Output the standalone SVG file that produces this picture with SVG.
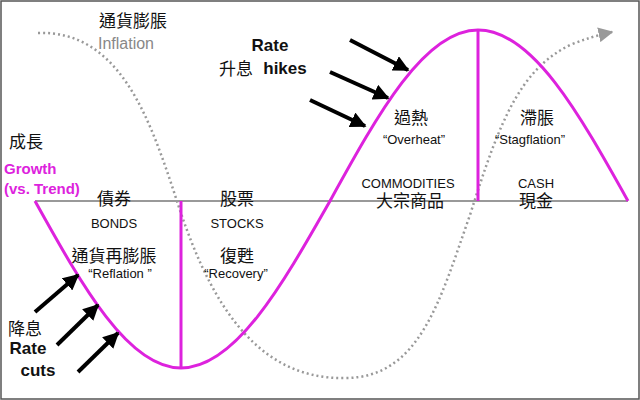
<svg xmlns="http://www.w3.org/2000/svg" width="640" height="400" viewBox="0 0 640 400">
<style>
text{font-family:"Liberation Sans","Noto Sans CJK TC",sans-serif;fill:#111;text-anchor:middle}
.cn{font-size:17px}
.en{font-size:13px}
.q{font-size:13px}
.b{font-weight:bold;font-size:17px}
.mag{fill:#dd22dd;font-weight:bold;font-size:15px;text-anchor:start}
.wave{fill:none;stroke:#dd22dd;stroke-width:3}
.arr{stroke:#000;stroke-width:4;marker-end:url(#ah)}
</style>
<defs>
<marker id="ah" viewBox="0 0 10 10" refX="9" refY="5" markerWidth="4" markerHeight="4" orient="auto"><path d="M0,0L10,5L0,10z" fill="#000"/></marker>
<marker id="gh" viewBox="0 0 10 10" refX="9" refY="5" markerWidth="6" markerHeight="6" orient="auto"><path d="M0,0L10,5L0,10z" fill="#999"/></marker>
</defs>
<rect x="1" y="1" width="638" height="398" fill="#fff" stroke="#555" stroke-width="1.5"/>
<g id="axis"><line x1="35" y1="201" x2="628" y2="201" stroke="#777" stroke-width="1.5"/></g>
<g id="inflation-curve"><path d="M38,33 C120,30 150,120 175,195 C205,290 250,380 345,378 C420,378 440,300 470,215 C500,120 520,70 570,45 C585,39 598,35 612,32" fill="none" stroke="#999" stroke-width="2.5" stroke-dasharray="2,3" marker-end="url(#gh)"/></g>
<g id="growth-curve">
<path class="wave" d="M35,201 C82.6,286.6 128.2,368 181,368 C234.9,368 281.4,286.6 330,201 C378.3,113.4 424.4,30 478,30 C532.3,30 579.1,113.4 628,201"/>
<line x1="181" y1="201" x2="181" y2="368" class="wave"/>
<line x1="478" y1="30" x2="478" y2="201" class="wave"/>
</g>
<g id="connectors">
<line class="arr" x1="35" y1="312" x2="78" y2="275"/>
<line class="arr" x1="57" y1="345" x2="98" y2="305"/>
<line class="arr" x1="78" y1="372" x2="118" y2="333"/>
<line class="arr" x1="350" y1="40" x2="408" y2="70"/>
<line class="arr" x1="330" y1="72" x2="388" y2="98"/>
<line class="arr" x1="310" y1="100" x2="365" y2="126"/>
</g>
<g id="inflation-label"><text class="cn" x="133" y="27">通貨膨脹</text><text x="126" y="49" style="font-size:16px;fill:#888">Inflation</text></g>
<g id="hikes-label"><text class="b" x="270" y="51">Rate</text><text class="cn" x="236" y="75">升息</text><text class="b" x="285" y="74">hikes</text></g>
<g id="growth-label"><text class="cn" x="26" y="148">成長</text><text class="mag" x="4" y="174">Growth</text><text class="mag" x="4" y="194">(vs. Trend)</text></g>
<g id="bonds"><text class="cn" x="114" y="205">債券</text><text class="en" x="114" y="228">BONDS</text><text class="cn" x="114" y="262">通貨再膨脹</text><text class="q" x="120" y="278">“Reflation ”</text></g>
<g id="stocks"><text class="cn" x="237" y="205">股票</text><text class="en" x="237" y="228">STOCKS</text><text class="cn" x="237" y="262">復甦</text><text class="q" x="236" y="278">“Recovery”</text></g>
<g id="commodities"><text class="cn" x="411" y="124">過熱</text><text class="q" x="414" y="144">“Overheat”</text><text class="en" x="408" y="188">COMMODITIES</text><text class="cn" x="410" y="207">大宗商品</text></g>
<g id="cash"><text class="cn" x="537" y="124">滯脹</text><text class="q" x="530" y="144">“Stagflation”</text><text class="en" x="536" y="188">CASH</text><text class="cn" x="536" y="207">現金</text></g>
<g id="cuts-label"><text class="cn" x="25" y="335">降息</text><text class="b" x="28" y="354">Rate</text><text class="b" x="38" y="376">cuts</text></g>
</svg>
